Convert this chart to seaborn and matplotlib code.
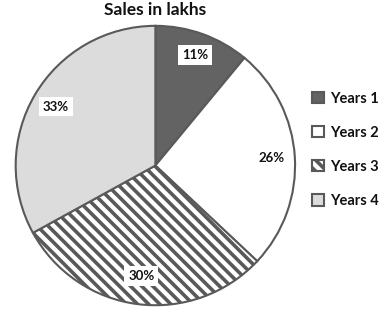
import matplotlib
matplotlib.use("Agg")
import matplotlib.pyplot as plt
import seaborn as sns
import numpy as np
from matplotlib.patches import Patch

sns.set_theme(style="white")
plt.rcParams['font.family'] = ['Lato', 'DejaVu Sans']
plt.rcParams['hatch.linewidth'] = 2.6
plt.rcParams['hatch.color'] = '#595959'

title = "Sales in lakhs"
categories = ["Years 1", "Years 2", "Years 3", "Years 4"]
values = [11, 26, 30, 33]
labels_pct = ["11%", "26%", "30%", "33%"]

colors = ["#636363", "#ffffff", "#ffffff", "#dcdcdc"]
hatches = [None, None, "\\\\\\", None]
edge = "#595959"

fig = plt.figure(figsize=(3.87, 3.23), dpi=100)
ax = fig.add_axes([0.04, 0.055, 0.723, 0.865])

wedges, texts = ax.pie(values, colors=colors, startangle=90, counterclock=False,
                       wedgeprops=dict(edgecolor=edge, linewidth=1.5), radius=1.0)
for w, h in zip(wedges, hatches):
    if h:
        w.set_hatch(h)

dists = [0.84, 0.83, 0.80, 0.83]
cum = np.cumsum([0] + values)
total = sum(values)
for i, (lab, d) in enumerate(zip(labels_pct, dists)):
    mid = 90 - 360 * (cum[i] + values[i] / 2) / total
    x = d * np.cos(np.radians(mid))
    y = d * np.sin(np.radians(mid))
    box = None
    if i != 1:
        box = dict(boxstyle="square,pad=0.3", facecolor="white", edgecolor="none")
    ax.text(x, y, lab, ha="center", va="center", fontsize=9.5, fontweight="bold",
            color="#111111", bbox=box)

ax.set_aspect("equal")
ax.set_xlim(-1.0, 1.0)
ax.set_ylim(-1.0, 1.0)
ax.axis("off")

fig.text(0.40, 0.968, title, ha="center", va="center", fontsize=12.5, fontweight="bold",
         color="#111111")

handles = [Patch(facecolor=c, edgecolor=edge, hatch=h, linewidth=1.5)
           for c, h in zip(colors, hatches)]
leg = fig.legend(handles, categories, loc="center left", bbox_to_anchor=(0.772, 0.536),
                 frameon=False, handlelength=0.8, handleheight=0.8, handletextpad=0.45,
                 labelspacing=1.38, prop=dict(size=10.5, weight="bold"))
for t in leg.get_texts():
    t.set_color("#111111")

fig.savefig("out.png", dpi=100, facecolor="white")
